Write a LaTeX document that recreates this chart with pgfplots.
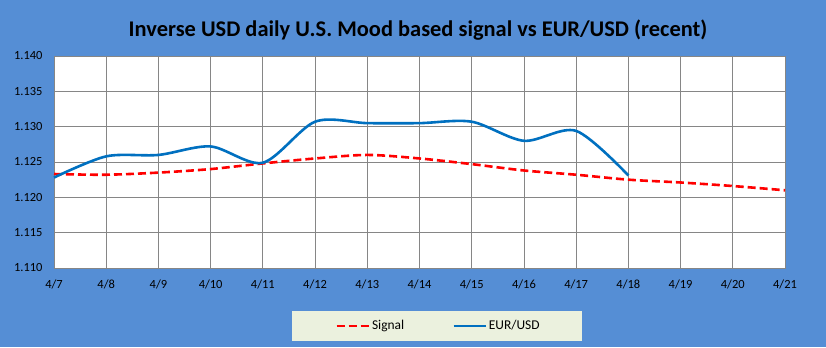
\documentclass[border=0pt]{standalone}
\usepackage{pgfplots}
\pgfplotsset{compat=1.18}
\usepackage{fontspec}
\setmainfont{Carlito}
\definecolor{bgblue}{HTML}{558ED5}
\definecolor{legfill}{HTML}{EBF1DE}
\definecolor{eurblue}{HTML}{0070C0}
\definecolor{gridgray}{HTML}{868686}
\begin{document}
\begin{tikzpicture}[x=1bp,y=1bp]
\fill[bgblue] (0,0) rectangle (826,347);
\fill[legfill] (292,6) rectangle (582,36);
\node[font=\fontsize{22.5}{26}\selectfont\bfseries] at (418,317) {Inverse USD daily U.S. Mood based signal vs EUR/USD (recent)};
\begin{axis}[
  at={(54bp,79bp)}, anchor=south west,
  scale only axis, width=731bp, height=212bp,
  xmin=0, xmax=14, ymin=1.110, ymax=1.140,
  xtick={0,...,14},
  xticklabels={4/7,4/8,4/9,4/10,4/11,4/12,4/13,4/14,4/15,4/16,4/17,4/18,4/19,4/20,4/21},
  ytick={1.110,1.115,1.120,1.125,1.130,1.135,1.140},
  /pgf/number format/fixed,
  /pgf/number format/fixed zerofill,
  /pgf/number format/precision=3,
  /pgf/number format/assume math mode=true,
  tick label style={font=\fontsize{12.5}{14}\selectfont},
  major tick length=0pt,
  grid=major,
  grid style={gridgray, line width=0.8bp},
  axis line style={gridgray, line width=0.8bp},
  axis background/.style={fill=white},
  xticklabel style={yshift=-8bp},
  yticklabel style={xshift=-8bp},
  legend columns=2,
  legend style={at={(0.526,-0.2736)}, anchor=center, draw=none, fill=none,
    font=\fontsize{13.5}{15}\selectfont,
    /tikz/every even column/.append style={column sep=46bp}},
  legend image code/.code={\draw[#1] (0bp,0bp) -- (32bp,0bp);},
  clip=false,
]
\addplot[red, line width=2.6bp, dash pattern=on 8bp off 4bp, smooth, tension=0.5] coordinates {
(0,1.1233) (1,1.1232) (2,1.1235) (3,1.1240) (4,1.1248) (5,1.1255) (6,1.1260) (7,1.1255)
(8,1.1247) (9,1.1238) (10,1.1232) (11,1.1225) (12,1.1221) (13,1.1216) (14,1.1210)};
\addlegendentry{Signal}
\addplot[eurblue, line width=2.6bp, smooth, tension=0.5] coordinates {
(0,1.1228) (1,1.1258) (2,1.1260) (3,1.1272) (4,1.1249) (5,1.1307) (6,1.1305) (7,1.1305)
(8,1.1307) (9,1.1280) (10,1.1294) (11,1.1231)};
\addlegendentry{EUR/USD}
\end{axis}
\end{tikzpicture}
\end{document}
